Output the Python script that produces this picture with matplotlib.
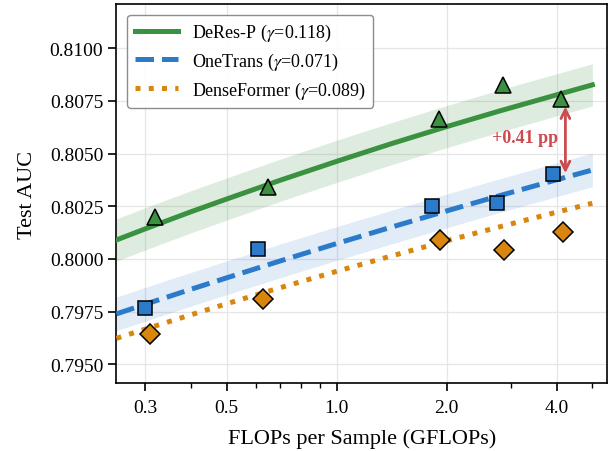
import matplotlib
matplotlib.use("Agg")
import matplotlib.pyplot as plt
from matplotlib.ticker import FixedLocator, FixedFormatter, NullFormatter

plt.rcParams['font.family'] = ['Liberation Serif', 'DejaVu Serif']
plt.rcParams['mathtext.fontset'] = 'stix'

# measured points (GFLOPs, test AUC)
flops_deres = [0.319, 0.648, 1.903, 2.856, 4.11]
auc_deres = [0.80198, 0.80339, 0.80664, 0.80826, 0.80761]
flops_onetrans = [0.299, 0.609, 1.824, 2.74, 3.915]
auc_onetrans = [0.79765, 0.80046, 0.80252, 0.80265, 0.80401]
flops_dense = [0.309, 0.630, 1.916, 2.87, 4.155]
auc_dense = [0.79644, 0.79810, 0.80090, 0.80043, 0.80127]

# fitted curves
fit_x = [0.25, 0.3, 0.4, 0.5, 0.7, 1.0, 1.4, 2.0, 2.8, 4.0, 5.0]
fit_deres = [0.80090, 0.80143, 0.80224, 0.80284, 0.80373, 0.80463,
             0.80545, 0.80628, 0.80703, 0.80779, 0.80826]
fit_onetrans = [0.79739, 0.79785, 0.79856, 0.79910, 0.79990, 0.80073,
                0.80149, 0.80228, 0.80301, 0.80376, 0.80422]
fit_dense = [0.79623, 0.79667, 0.79735, 0.79787, 0.79863, 0.79941,
             0.80012, 0.80086, 0.80153, 0.80222, 0.80264]
band_deres = 0.0010
band_onetrans = 0.0008

labels = ['DeRes-P ($\\gamma$=0.118)', 'OneTrans ($\\gamma$=0.071)',
          'DenseFormer ($\\gamma$=0.089)']
gap_label = '+0.41 pp'

x_ticks = [0.3, 0.5, 1.0, 2.0, 4.0]
x_minor = [0.4, 0.6, 0.7, 0.8, 0.9, 3.0, 5.0]
y_ticks = [0.7950, 0.7975, 0.8000, 0.8025, 0.8050, 0.8075, 0.8100]

green = '#3a913f'
blue = '#2b7bca'
orange = '#d9860f'
red = '#cc4b4f'

fig = plt.figure(figsize=(6.13, 4.52), dpi=100)
ax = fig.add_axes([0.190, 0.150, 0.801, 0.839])

# confidence bands
ax.fill_between(fit_x, [v - band_deres for v in fit_deres],
                [v + band_deres for v in fit_deres], color=green, alpha=0.17, lw=0)
ax.fill_between(fit_x, [v - band_onetrans for v in fit_onetrans],
                [v + band_onetrans for v in fit_onetrans], color=blue, alpha=0.14, lw=0)

# fit lines
ax.plot(fit_x, fit_deres, color=green, lw=3.6, ls='-', label=labels[0], zorder=3)
ax.plot(fit_x, fit_onetrans, color=blue, lw=3.6, ls='--', label=labels[1], zorder=3)
ax.plot(fit_x, fit_dense, color=orange, lw=3.6, ls=':', label=labels[2], zorder=3)

# measured points
ax.plot(flops_deres, auc_deres, ls='none', marker='^', ms=11.5, color=green,
        mec='black', mew=1.1, zorder=4)
ax.plot(flops_onetrans, auc_onetrans, ls='none', marker='s', ms=10.5, color=blue,
        mec='black', mew=1.1, zorder=4)
ax.plot(flops_dense, auc_dense, ls='none', marker='D', ms=9.8, color=orange,
        mec='black', mew=1.1, zorder=4)

# gap annotation
ax.annotate('', xy=(4.22, 0.80407), xytext=(4.22, 0.80723),
            arrowprops=dict(arrowstyle='<->', color=red, lw=2, mutation_scale=16,
                            shrinkA=0, shrinkB=0), zorder=5)
ax.text(4.02, 0.80578, gap_label, color=red, fontsize=13, fontweight='bold',
        ha='right', va='center')

ax.set_xscale('log')
ax.set_xlim(0.25, 5.5)
ax.set_ylim(0.7941, 0.8121)
ax.xaxis.set_major_locator(FixedLocator(x_ticks))
ax.xaxis.set_major_formatter(FixedFormatter(['%.1f' % v for v in x_ticks]))
ax.xaxis.set_minor_locator(FixedLocator(x_minor))
ax.xaxis.set_minor_formatter(NullFormatter())
ax.set_yticks(y_ticks)
ax.set_yticklabels(['%.4f' % v for v in y_ticks])

ax.tick_params(which='major', length=6, width=1.2, labelsize=14)
ax.tick_params(axis='x', which='major', pad=5.5)
ax.tick_params(which='minor', length=3.5, width=1.0)
for s in ax.spines.values():
    s.set_linewidth(1.2)

ax.grid(True, which='major', color='#e6e6e6', lw=0.9)
ax.set_axisbelow(True)

ax.set_xlabel('FLOPs per Sample (GFLOPs)', fontsize=16, labelpad=9)
ax.set_ylabel('Test AUC', fontsize=16, labelpad=9)

ax.legend(loc='upper left', fontsize=13, handlelength=2.4, framealpha=0.9,
          edgecolor='#808080', fancybox=True, labelspacing=0.42,
          borderaxespad=0.6)

fig.savefig('out.png', dpi=100)
